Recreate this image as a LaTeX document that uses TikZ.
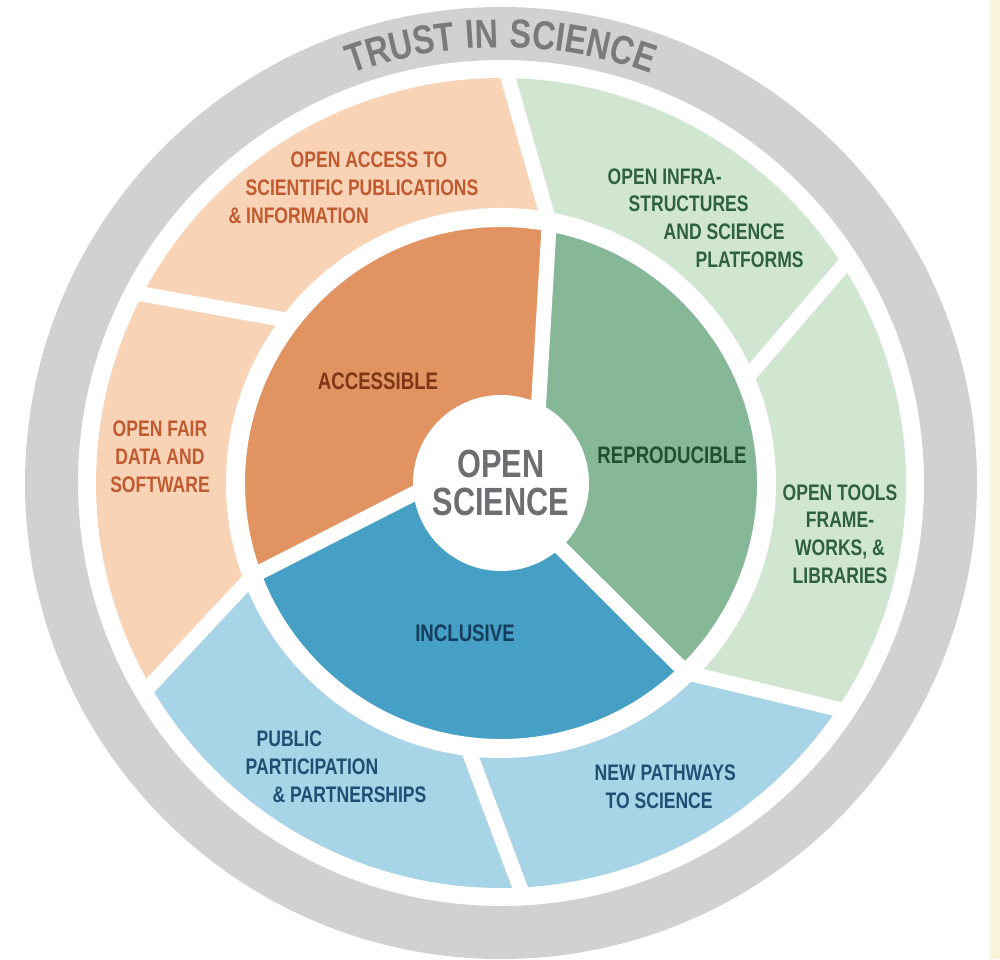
\documentclass[tikz,border=0pt]{standalone}
\usepackage{fontspec}
\setmainfont{Liberation Sans}[FakeStretch=0.78]
\newfontfamily\trustfont{Liberation Sans}[FakeStretch=0.8, LetterSpace=4]
\usetikzlibrary{decorations.text}

\definecolor{ringgray}{HTML}{D1D1D1}
\definecolor{trusttext}{HTML}{7A7A7A}
\definecolor{peach}{HTML}{F9D3B6}
\definecolor{accorange}{HTML}{E19461}
\definecolor{peachtext}{HTML}{C05A30}
\definecolor{acctext}{HTML}{7E3714}
\definecolor{lightgreen}{HTML}{D0E6D0}
\definecolor{green}{HTML}{86B898}
\definecolor{greentext}{HTML}{2F6140}
\definecolor{reprotext}{HTML}{22502F}
\definecolor{lightblue}{HTML}{A7D4E6}
\definecolor{blue}{HTML}{469FC5}
\definecolor{bluetext}{HTML}{1F4F72}
\definecolor{incltext}{HTML}{153E5E}
\definecolor{coretext}{HTML}{6D6E71}
\definecolor{bgbeige}{HTML}{FBF4DA}

\tikzset{
  gap/.style={draw=white, line width=1.5mm, shorten <=-1mm, shorten >=-1mm},
  outerlbl/.style={font=\bfseries\fontsize{6.4}{7.9}\selectfont, inner sep=0pt},
  innerlbl/.style={font=\bfseries\fontsize{6.8}{8}\selectfont, inner sep=0pt},
}

\begin{document}
\begin{tikzpicture}
  \useasboundingbox (-5.01,-4.76) rectangle (4.99,4.83);
  \fill[bgbeige] (4.89,-4.76) rectangle (4.99,4.83);

  % outer ring
  \draw[ringgray, line width=5.3mm] (0,0) circle (4.495);
  \path[decorate, decoration={text along path, text align=center,
      text={|\trustfont\bfseries\fontsize{11.5}{12}\selectfont\color{trusttext}|TRUST IN SCIENCE}}]
    (150:4.355) arc[start angle=150, end angle=30, radius=4.355];

  % middle ring
  \foreach \a/\b/\c/\d/\col in {-45.7/-33.9/22.9/32.4/lightgreen, 22.9/32.4/79.5/89/lightgreen,
      79.5/89/142.3/152.2/peach, 142.3/152.2/200.5/210/peach,
      200.5/210/262.6/272.7/lightblue, 262.6/272.7/314.3/326.1/lightblue}
    \fill[\col] (\a:2.65) -- (\b:4.05) arc[start angle=\b, end angle=\d, radius=4.05]
      -- (\c:2.65) arc[start angle=\c, end angle=\a, radius=2.65] -- cycle;

  % inner ring
  \foreach \a/\b/\c/\d/\col in {-47.3/-45.7/64.7/79.5/green, 64.7/79.5/187/200.5/accorange,
      187/200.5/312.7/314.3/blue}
    \fill[\col] (0,0) -- (\a:0.88) -- (\b:2.65) arc[start angle=\b, end angle=\d, radius=2.65]
      -- (\c:0.88) -- cycle;

  % gaps
  \coordinate (a0) at (64.7:0.88);  \coordinate (a1) at (79.5:2.65);  \coordinate (a2) at (89:4.05);
  \coordinate (b0) at (187:0.88);   \coordinate (b1) at (200.5:2.65); \coordinate (b2) at (210:4.05);
  \coordinate (c0) at (-47.3:0.88); \coordinate (c1) at (-45.7:2.65); \coordinate (c2) at (-33.9:4.05);
  \coordinate (d1) at (22.9:2.65);  \coordinate (d2) at (32.4:4.05);
  \coordinate (e1) at (-97.4:2.65); \coordinate (e2) at (-87.3:4.05);
  \coordinate (f1) at (142.3:2.65); \coordinate (f2) at (152.2:4.05);
  \draw[gap] (a0) -- (a1) -- (a2);
  \draw[gap] (b0) -- (b1) -- (b2);
  \draw[gap] (c0) -- (c1) -- (c2);
  \draw[gap, shorten <=0pt] (d1) -- (d2);
  \draw[gap, shorten <=0pt] (e1) -- (e2);
  \draw[gap, shorten <=0pt] (f1) -- (f2);
  \draw[white, line width=1.9mm] (0,0) circle (2.655);

  % centre
  \node[circle, fill=white, minimum size=1.76cm, inner sep=0pt, align=center, text=coretext,
    font=\bfseries\fontsize{11.2}{10.6}\selectfont] (core) at (0,0) {OPEN\\SCIENCE};

  \node[innerlbl, text=acctext] (accessible) at (-1.23,1.02) {ACCESSIBLE};
  \node[innerlbl, text=reprotext] (reproducible) at (1.71,0.28) {REPRODUCIBLE};
  \node[innerlbl, text=incltext] (inclusive) at (-0.36,-1.50) {INCLUSIVE};

  \node[outerlbl, text=peachtext, align=left, anchor=west] (access) at (-2.73,2.955)
    {\hspace*{0.62cm}OPEN ACCESS TO\\\hspace*{0.17cm}SCIENTIFIC PUBLICATIONS\\\& INFORMATION};
  \node[outerlbl, text=peachtext, align=center] (fair) at (-3.41,0.26)
    {OPEN FAIR\\DATA AND\\SOFTWARE};
  \node[outerlbl, text=greentext, align=left, anchor=west] (infra) at (1.06,2.65)
    {OPEN INFRA-\\\hspace*{0.21cm}STRUCTURES\\\hspace*{0.56cm}AND SCIENCE\\\hspace*{0.88cm}PLATFORMS};
  \node[outerlbl, text=greentext, align=center] (tools) at (3.39,-0.51)
    {OPEN TOOLS\\FRAME-\\WORKS, \&\\LIBRARIES};
  \node[outerlbl, text=bluetext, align=left, anchor=west] (public) at (-2.56,-2.84)
    {\hspace*{0.11cm}PUBLIC\\PARTICIPATION\\\hspace*{0.27cm}\& PARTNERSHIPS};
  \node[outerlbl, text=bluetext, align=left, anchor=west] (pathways) at (0.93,-3.035)
    {NEW PATHWAYS\\\hspace*{0.11cm}TO SCIENCE};
\end{tikzpicture}
\end{document}
